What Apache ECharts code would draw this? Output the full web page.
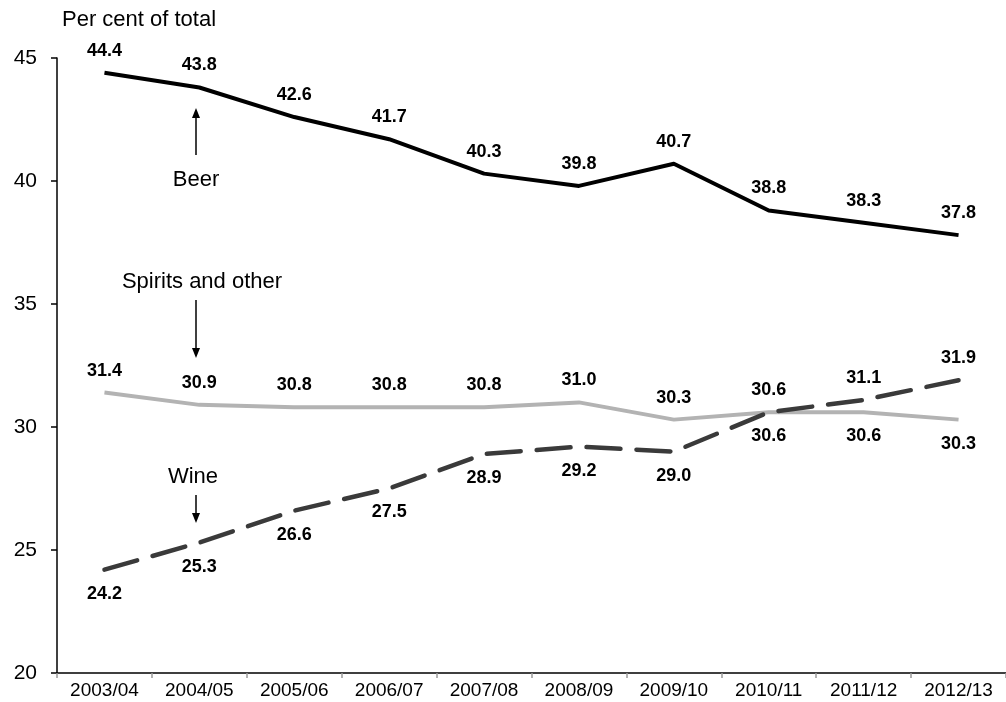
<!DOCTYPE html>
<html>
<head>
<meta charset="utf-8">
<script src="https://cdn.jsdelivr.net/npm/echarts@6/dist/echarts.min.js"></script>
<style>
  html, body { margin: 0; padding: 0; background: #fff; }
  #chart { width: 1006px; height: 702px; }
</style>
</head>
<body>
<div id="chart"></div>
<script>
// Share of alcohol consumption by beverage type, per cent of total
const years = ['2003/04', '2004/05', '2005/06', '2006/07', '2007/08',
               '2008/09', '2009/10', '2010/11', '2011/12', '2012/13'];
const beer    = [44.4, 43.8, 42.6, 41.7, 40.3, 39.8, 40.7, 38.8, 38.3, 37.8];
const spirits = [31.4, 30.9, 30.8, 30.8, 30.8, 31.0, 30.3, 30.6, 30.6, 30.3];
const wine    = [24.2, 25.3, 26.6, 27.5, 28.9, 29.2, 29.0, 30.6, 31.1, 31.9];
const yTicks  = [20, 25, 30, 35, 40, 45];

// which side of the line each value label sits on
const beerSide    = ['top','top','top','top','top','top','top','top','top','top'];
const spiritsSide = ['top','top','top','top','top','top','top','bottom','bottom','bottom'];
const wineSide    = ['bottom','bottom','bottom','bottom','bottom','bottom','bottom','top','top','top'];

const FONT = 'Liberation Sans, Arial, sans-serif';

const valueLabel = (side) => ({
  show: true,
  position: side,
  distance: side === 'top' ? 12 : 14,
  fontFamily: FONT,
  fontWeight: 'bold',
  fontSize: 18,
  color: '#000',
  formatter: (p) => Number(p.value).toFixed(1)
});

const withSides = (values, sides) =>
  values.map((v, i) => ({ value: v, label: valueLabel(sides[i]) }));

// transparent point markers carry the value labels
const hiddenPoints = {
  symbol: 'circle',
  symbolSize: 2,
  showSymbol: true,
  itemStyle: { color: 'rgba(0,0,0,0)', borderWidth: 0 }
};

const chart = echarts.init(document.getElementById('chart'), null, { renderer: 'canvas' });

chart.setOption({
  animation: false,
  backgroundColor: '#fff',
  grid: { left: 57, right: -11, top: 58, bottom: 29, containLabel: false },
  xAxis: {
    type: 'category',
    data: years,
    boundaryGap: true,
    axisLine: { lineStyle: { color: '#000', width: 1.5 } },
    axisTick: { show: true, length: 5, lineStyle: { color: '#999', width: 1.5 } },
    axisLabel: { fontFamily: FONT, fontSize: 19, color: '#000', margin: 8 },
    splitLine: { show: false }
  },
  yAxis: {
    type: 'value',
    min: yTicks[0],
    max: yTicks[yTicks.length - 1],
    interval: 5,
    axisLine: { show: true, lineStyle: { color: '#000', width: 1.5 } },
    axisTick: { show: true, inside: false, length: 6, lineStyle: { color: '#000', width: 1.5 } },
    axisLabel: { fontFamily: FONT, fontSize: 21, color: '#000', margin: 20 },
    splitLine: { show: false }
  },
  series: [
    Object.assign({
      name: 'Beer',
      type: 'line',
      data: withSides(beer, beerSide),
      lineStyle: { color: '#000', width: 4, join: 'round' },
      z: 3
    }, hiddenPoints),
    Object.assign({
      name: 'Spirits and other',
      type: 'line',
      data: withSides(spirits, spiritsSide),
      lineStyle: { color: '#b3b3b3', width: 4, join: 'round' },
      z: 2
    }, hiddenPoints),
    Object.assign({
      name: 'Wine',
      type: 'line',
      data: withSides(wine, wineSide),
      lineStyle: { color: '#3a3a3a', width: 4.5, type: [34, 16], cap: 'round', join: 'round' },
      z: 4
    }, hiddenPoints)
  ]
});

// Annotations: axis unit, series names with pointer arrows
function arrow(x, y1, y2) {
  const dir = y2 > y1 ? 1 : -1;
  return [
    { type: 'line', shape: { x1: x, y1: y1, x2: x, y2: y2 - dir * 8 },
      style: { stroke: '#000', lineWidth: 1.5 } },
    { type: 'polygon', shape: { points: [[x - 4, y2 - dir * 10], [x + 4, y2 - dir * 10], [x, y2]] },
      style: { fill: '#000' } }
  ];
}
const txt = (x, y, s, align) => ({
  type: 'text', x: x, y: y,
  style: { text: s, fontFamily: FONT, fontSize: 22, fill: '#000',
           align: align || 'center', verticalAlign: 'middle' }
});

chart.setOption({
  graphic: [
    txt(62, 20, 'Per cent of total', 'left'),
    ...arrow(196, 155, 108),
    txt(196, 180, 'Beer'),
    txt(202, 282, 'Spirits and other'),
    ...arrow(196, 300, 358),
    txt(193, 477, 'Wine'),
    ...arrow(196, 495, 523)
  ]
});
</script>
</body>
</html>
